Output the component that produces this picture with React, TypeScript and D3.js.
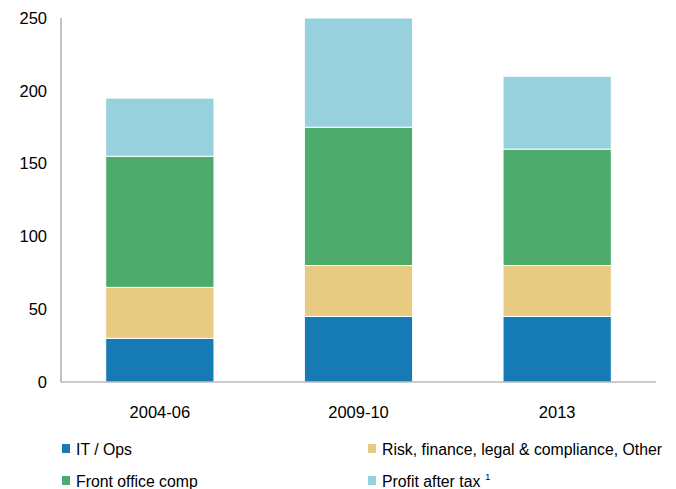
import React from "react";
import * as d3 from "d3";

const categories = ["2004-06", "2009-10", "2013"];
const seriesNames = ["IT / Ops", "Risk, finance, legal & compliance, Other", "Front office comp", "Profit after tax"];
const itOps = [30, 45, 45];
const risk = [35, 35, 35];
const frontOffice = [90, 95, 80];
const profit = [40, 75, 50];
const yTicks = [0, 50, 100, 150, 200, 250];
const colors = ["#167bb5", "#e8cb82", "#4dab6c", "#97d1de"];

export default function App() {
  const W = 676, H = 489;
  const left = 61, right = 656, top = 18, bottom = 382;
  const x = d3.scaleBand<string>().domain(categories).range([left, right]).paddingInner(0.455).paddingOuter(0.225);
  const y = d3.scaleLinear().domain([0, 250]).range([bottom, top]);
  const rows = categories.map((c, i) => ({ cat: c, s0: itOps[i], s1: risk[i], s2: frontOffice[i], s3: profit[i] }));
  const stack = d3.stack<any>().keys(["s0", "s1", "s2", "s3"])(rows);
  const font = "'Liberation Sans', Arial, sans-serif";
  const legendPos = [
    { x: 62, y: 449 },
    { x: 368, y: 449 },
    { x: 62, y: 481 },
    { x: 368, y: 481 },
  ];
  return (
    <svg width={W} height={H} style={{ position: "absolute", left: 0, top: 0 }} fontFamily={font}>
      {stack.map((layer, li) =>
        layer.map((d, i) => (
          <rect
            key={li + "-" + i}
            x={x(categories[i])}
            width={x.bandwidth()}
            y={y(d[1])}
            height={y(d[0]) - y(d[1])}
            fill={colors[li]}
            stroke="#fff"
            strokeWidth={1}
          />
        ))
      )}
      <line x1={left} x2={left} y1={top} y2={bottom} stroke="#999" strokeWidth={1.2} />
      <line x1={left} x2={right} y1={bottom} y2={bottom} stroke="#999" strokeWidth={1.2} />
      {yTicks.map((t) => (
        <text key={t} x={47} y={y(t)} dy="0.35em" textAnchor="end" fontSize={16.5} fill="#000">
          {t}
        </text>
      ))}
      {categories.map((c) => (
        <text key={c} x={(x(c) as number) + x.bandwidth() / 2} y={412} dy="0.35em" textAnchor="middle" fontSize={16.5} fill="#000">
          {c}
        </text>
      ))}
      {seriesNames.map((n, i) => (
        <g key={n}>
          <rect x={legendPos[i].x} y={legendPos[i].y - 5} width={8} height={9} fill={colors[i]} />
          <text x={legendPos[i].x + 14} y={legendPos[i].y} dy="0.35em" fontSize={15.8} fill="#000">
            {n}
            {i === 3 ? <tspan dx={5} dy={-7} fontSize={9}>1</tspan> : null}
          </text>
        </g>
      ))}
    </svg>
  );
}
